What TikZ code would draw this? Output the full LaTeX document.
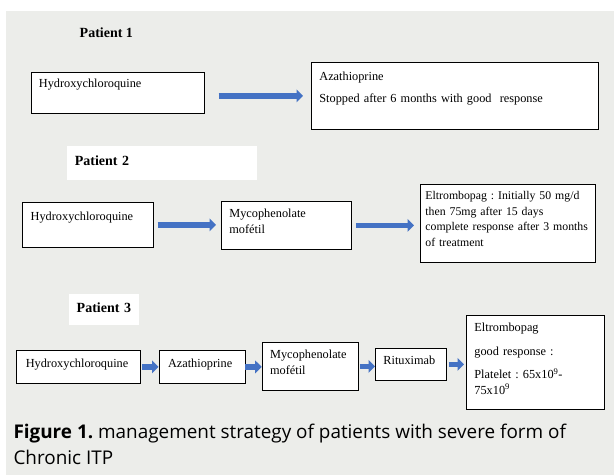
\documentclass[tikz,border=0pt]{standalone}
\usepackage{fontspec}
\setmainfont{Liberation Serif}
\newfontfamily\capfont{Open Sans}
\usetikzlibrary{arrows.meta}
\definecolor{pagegray}{RGB}{236,237,234}
\definecolor{arrowblue}{RGB}{68,114,196}
\frenchspacing

\begin{document}
\begin{tikzpicture}[
  x=1pt, y=-1pt,
  box/.style={rectangle, draw=black, line width=0.8pt, fill=white, anchor=north west,
              align=left, inner xsep=8pt, inner ysep=0pt, font=\fontsize{12.3}{15.7}\selectfont},
  lbl/.style={rectangle, fill=white, anchor=north west, align=left, inner xsep=8pt,
              inner ysep=0pt, font=\fontsize{14}{16}\selectfont\bfseries},
  arr/.style={-{Triangle[length=6.5pt, width=12.5pt]}, line width=5.5pt, arrowblue}
]

\useasboundingbox (0,0) rectangle (614,475);
\fill[pagegray] (5.9,11) rectangle (614,475);

% patient 1
\node[anchor=base west, inner sep=0pt, font=\fontsize{14}{16}\selectfont\bfseries] (pat1) at (79.5,37) {Patient 1};
\node[box, text width=157pt, text height=15pt, text depth=26pt] (hyd1) at (30.5,72) {Hydroxychloroquine};
\node[box, text width=271pt, text height=18pt, text depth=49pt] (aza1) at (311,62)
  {Azathioprine\\[6.3pt]Stopped after 6 months with good\ \ response};

% patient 2
\node[lbl, text width=174pt, text height=19pt, text depth=15pt] (pat2) at (66.6,146) {Patient 2};
\node[box, text width=114.4pt, text height=18pt, text depth=27pt] (hyd2) at (22.3,202) {Hydroxychloroquine};
\node[box, text width=114pt, text height=16pt, text depth=32pt] (myco2) at (221,201) {Mycophenolate\\mofétil};
\node[box, inner xsep=5pt, text width=165pt, text height=15pt, text depth=63pt,
      font=\fontsize{11.8}{15.7}\selectfont] (eltro2) at (420,184)
  {Eltrombopag : Initially 50 mg/d\\then 75mg after 15 days\\complete response after 3 months\\of treatment};

% patient 3
\node[lbl, text width=54.5pt, text height=18pt, text depth=13pt] (pat3) at (68.5,294) {Patient 3};
\node[box, inner xsep=9pt, text width=105.6pt, text height=17pt, text depth=16pt] (hyd3) at (16.4,350) {Hydroxychloroquine};
\node[box, inner xsep=9pt, text width=68pt, text height=17pt, text depth=16pt] (aza3) at (158.6,350) {Azathioprine};
\node[box, text width=80.3pt, text height=16pt, text depth=32pt] (myco3) at (261.7,342) {Mycophenolate\\mofétil};
\node[box, text width=55pt, text height=16pt, text depth=16pt] (ritux3) at (375,348) {Rituximab};
\node[box, text width=122pt, text height=16pt, text depth=78pt] (eltro3) at (466,315)
  {Eltrombopag\\[8.3pt]good response :\\[7.3pt]Platelet : 65x10\textsuperscript{9}-\\75x10\textsuperscript{9}};

% caption
\node[anchor=base west, inner sep=0pt, align=left, font=\capfont\fontsize{18.9}{26}\selectfont] (caption) at (13.3,464.3)
  {\textbf{Figure 1.} management strategy of patients with severe form of\\Chronic ITP};

\draw[arr, shorten <=14.4pt, shorten >=8pt] (hyd1.east |- aza1.west) -- (aza1.west);
\draw[arr, shorten <=4pt, shorten >=5pt] (hyd2.east) -- (hyd2.east -| myco2.west);
\draw[arr, shorten <=4pt, shorten >=6pt] (myco2.east) -- (myco2.east -| eltro2.west);
\draw[arr, shorten <=1pt] (hyd3.east) -- (hyd3.east -| aza3.west);
\draw[arr] (aza3.east) -- (aza3.east -| myco3.west);
\draw[arr, shorten <=1pt] (myco3.east) -- (myco3.east -| ritux3.west);
\draw[arr, shorten <=2pt, shorten >=2pt] (ritux3.east) -- (ritux3.east -| eltro3.west);

\end{tikzpicture}
\end{document}
